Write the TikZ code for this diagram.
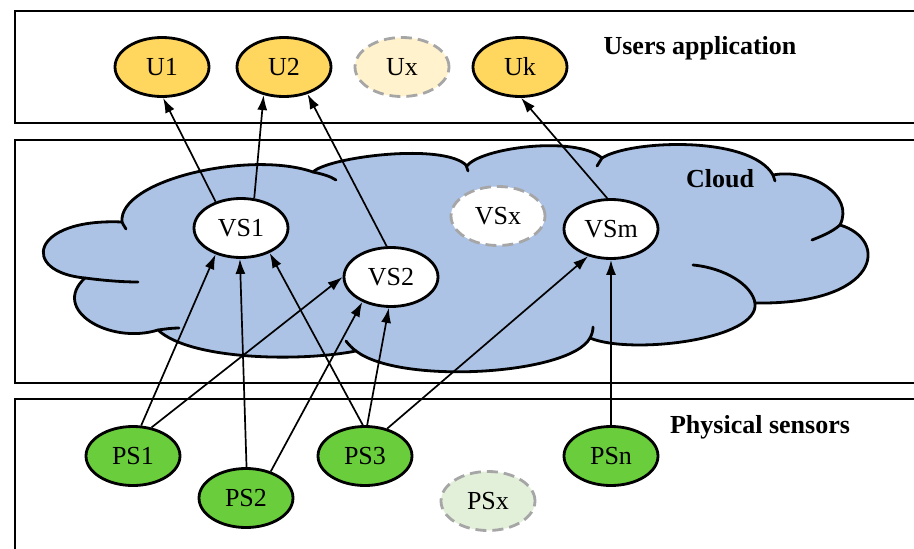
\documentclass[tikz,border=0pt]{standalone}
\usepackage{fontspec}
\setmainfont{Liberation Serif}
\usetikzlibrary{shapes.geometric,arrows.meta}

\definecolor{ugold}{RGB}{255,215,95}
\definecolor{ulight}{RGB}{255,242,204}
\definecolor{psgreen}{RGB}{106,205,60}
\definecolor{pslight}{RGB}{226,240,217}
\definecolor{cloudblue}{RGB}{172,195,230}
\definecolor{ghostgray}{RGB}{166,166,166}

\tikzset{
  ellbase/.style={ellipse, minimum width=94pt, minimum height=59pt, inner sep=0pt,
                  font=\fontsize{26}{30}\selectfont},
  solidell/.style={ellbase, draw=black, line width=2.8pt},
  ghostell/.style={ellbase, draw=ghostgray, line width=2.8pt, dash pattern=on 11pt off 6pt},
  unode/.style={solidell, fill=ugold},
  ughost/.style={ghostell, fill=ulight},
  vnode/.style={solidell, fill=white},
  vghost/.style={ghostell, fill=white},
  pnode/.style={solidell, fill=psgreen},
  pghost/.style={ghostell, fill=pslight},
  band/.style={draw=black, line width=2.8pt},
  cloudfill/.style={fill=cloudblue, draw=black, line width=2.8pt, line join=round},
  cloudline/.style={draw=black, line width=2.8pt, line cap=round},
  heading/.style={font=\bfseries\fontsize{26}{30}\selectfont},
  link/.style={line width=1.7pt, -{Latex[length=15pt,width=10pt]}}
}

\begin{document}
\begin{tikzpicture}[x=1pt,y=-1pt]
\clip (0,0) rectangle (914,549);
\fill[white] (0,0) rectangle (914,549);

% three layer bands
\draw[band] (15,11) rectangle (930,123);
\draw[band] (15,140) rectangle (930,383);
\draw[band] (15,399) rectangle (930,570);

% cloud outline, lobe by lobe
\path[cloudfill] (122,222) .. controls (118,180) and (250,150) .. (313,172)
  .. controls (328,157) and (445,142) .. (467,166)
  .. controls (480,148) and (575,135) .. (602,158)
  .. controls (630,140) and (750,135) .. (773,175)
  .. controls (810,168) and (855,195) .. (840,225)
  .. controls (890,240) and (880,305) .. (755,303)
  .. controls (760,340) and (630,355) .. (590,338)
  .. controls (570,375) and (400,385) .. (356,351)
  .. controls (300,362) and (190,360) .. (158,330)
  .. controls (110,345) and (50,310) .. (85,278)
  .. controls (20,272) and (30,218) .. (122,222) -- cycle;

% inner strokes where lobes meet
\draw[cloudline] (313,172) .. controls (322,174) and (330,176) .. (336,180);
\draw[cloudline] (466,165) .. controls (467,167) and (467,169) .. (468,171);
\draw[cloudline] (602,158) .. controls (600,161) and (599,163) .. (597,166);
\draw[cloudline] (773,175) .. controls (774,177) and (774,179) .. (775,181);
\draw[cloudline] (840,225) .. controls (832,232) and (822,236) .. (812,240);
\draw[cloudline] (755,303) .. controls (752,285) and (725,268) .. (693,265);
\draw[cloudline] (590,338) .. controls (592,334) and (593,331) .. (593,327);
\draw[cloudline] (356,351) .. controls (352,348) and (349,345) .. (346,341);
\draw[cloudline] (158,330) .. controls (165,329) and (172,328) .. (179,328);
\draw[cloudline] (85,278) .. controls (100,280) and (120,282) .. (138,282);
\draw[cloudline] (122,222) .. controls (123,224) and (124,226) .. (126,229);

% layer titles
\node[heading] (tusers) at (700,48) {Users application};
\node[heading] (tcloud) at (720,179) {Cloud};
\node[heading] (tphys) at (760,427) {Physical sensors};

% users
\node[unode] (u1) at (162,67) {U1};
\node[unode] (u2) at (284,67) {U2};
\node[ughost] (ux) at (402,67) {Ux};
\node[unode] (uk) at (520,67) {Uk};

% virtual sensors
\node[vnode] (vs1) at (241,228) {VS1};
\node[vnode] (vs2) at (391,277) {VS2};
\node[vghost] (vsx) at (498,216) {VSx};
\node[vnode] (vsm) at (611,229) {VSm};

% physical sensors
\node[pnode] (ps1) at (133,456) {PS1};
\node[pnode] (ps2) at (246,498) {PS2};
\node[pnode] (ps3) at (365,456) {PS3};
\node[pghost] (psx) at (488,501) {PSx};
\node[pnode] (psn) at (611,456) {PSn};

% virtual sensors feeding users
\draw[link] (vs1.134) -- (u1.272);
\draw[link] (vs1.66) -- (u2.234);
\draw[link] (vs2.98) -- (u2.311);
\draw[link] (vsm.97) -- (uk.272);

% physical sensors feeding virtual sensors
\draw[link] (ps1.75) -- (vs1.226);
\draw[link] (ps1.57) -- (vs2.180);
\draw[link] (ps2.89) -- (vs1.268);
\draw[link] (ps2.47) -- (vs2.221);
\draw[link] (ps3.94) -- (vs1.319);
\draw[link] (ps3.86) -- (vs2.266);
\draw[link] (ps3.51) -- (vsm.230);
\draw[link] (psn.90) -- (vsm.270);
\end{tikzpicture}
\end{document}
